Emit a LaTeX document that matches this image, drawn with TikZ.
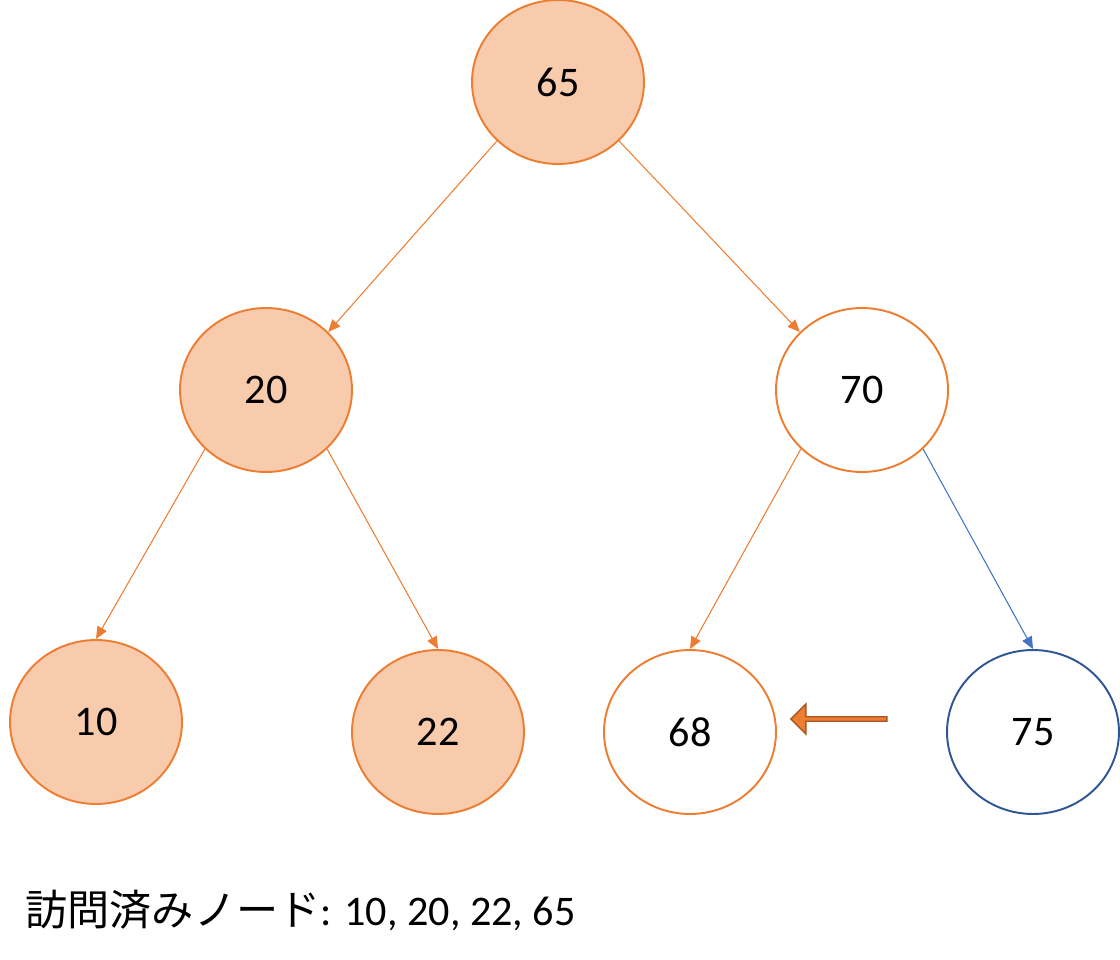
\documentclass[tikz,border=0pt]{standalone}
\usepackage{fontspec}
\setmainfont{Carlito}
\newfontfamily\cjk{Noto Sans CJK JP}
\usetikzlibrary{shapes.geometric,shapes.arrows,arrows.meta}
\definecolor{org}{HTML}{ED7D31}
\definecolor{lorg}{HTML}{F8CBAD}
\definecolor{dblue}{HTML}{2F5597}
\definecolor{eblue}{HTML}{4472C4}
\tikzset{
 nd/.style={ellipse,draw=org,line width=1.1pt,minimum width=3.44cm,minimum height=3.28cm,inner sep=0pt,font=\fontsize{24}{28}\selectfont},
 vis/.style={nd,fill=lorg},
 ed/.style={draw=org,line width=0.6pt,-{Triangle[length=7pt,width=6pt]}},
}
\begin{document}
\begin{tikzpicture}[x=0.02cm,y=-0.02cm]
\useasboundingbox (0,0) rectangle (1120,960);
\node[vis] (n65) at (558,82) {65};
\node[vis] (n20) at (266,390) {20};
\node[nd]  (n70) at (862,390) {70};
\node[vis] (n10) at (96,722) {10};
\node[vis] (n22) at (438,732) {22};
\node[nd]  (n68) at (690,732) {68};
\node[nd,draw=dblue] (n75) at (1033,732) {75};
\draw[ed] (n65.224) -- (n20.43);
\draw[ed] (n65.316) -- (n70.137);
\draw[ed] (n20.224) -- (n10.90);
\draw[ed] (n20.316) -- (n22.90);
\draw[ed] (n70.224) -- (n68.90);
\draw[ed,draw=eblue] (n70.316) -- (n75.90);
\node[single arrow,shape border rotate=180,fill=org,draw=org!70!black,line width=0.8pt,minimum height=1.92cm,minimum width=0.6cm,single arrow head extend=0.08cm,inner sep=0pt] (blk) at (840,719) {};
\node[anchor=west,font=\fontsize{24}{28}\selectfont,inner sep=0pt] (lbl) at (25,910) {{\cjk 訪問済みノード}: 10, 20, 22, 65};
\end{tikzpicture}
\end{document}
